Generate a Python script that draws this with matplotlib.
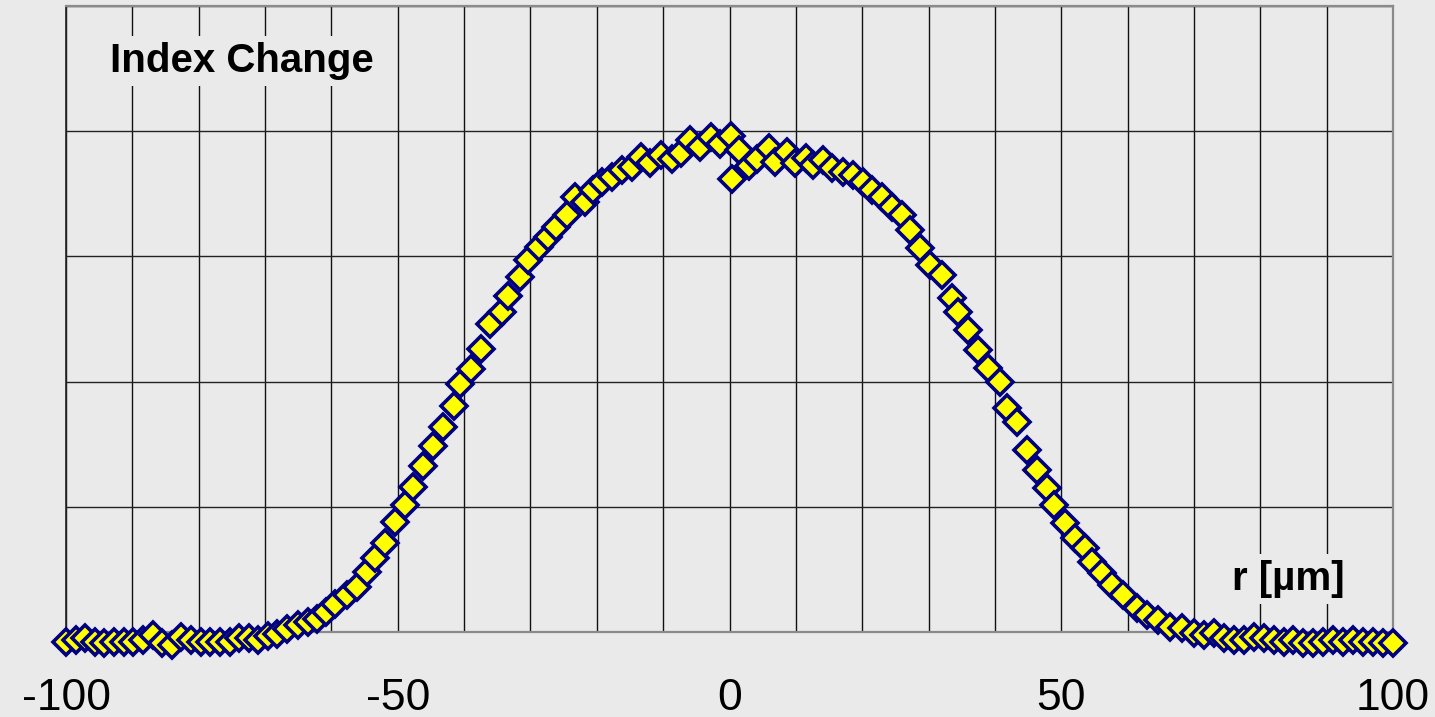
import matplotlib
matplotlib.use("Agg")
import matplotlib.pyplot as plt

plt.rcParams['font.family'] = ['Liberation Sans', 'DejaVu Sans']

# radial position [µm]
r_um = [
    -100.0, -98.55, -97.1, -95.65, -94.2, -92.75, -91.3, -89.85, -88.4, -86.95,
    -85.5, -84.05, -82.6, -81.15, -79.7, -78.25, -76.8, -75.35, -73.9, -72.45,
    -71.06, -69.56, -68.20, -66.69, -65.03, -63.53, -62.17, -60.82, -59.46, -57.65,
    -56.14, -54.64, -53.43, -51.92, -50.41, -48.91, -47.70, -46.19, -44.69, -43.18,
    -41.52, -40.62, -38.96, -37.45, -36.10, -34.29, -33.38, -31.57, -30.37, -28.71,
    -27.36, -26.15, -24.49, -23.29, -21.78, -20.57, -19.22, -17.71, -16.20, -14.70,
    -13.34, -11.98, -10.32, -8.67, -7.31, -5.95, -4.45, -2.79, -1.43, 0.23,
    0.38, 1.43, 2.94, 4.14, 5.95, 6.86, 8.67, 9.87, 11.53, 12.58,
    14.09, 15.45, 17.11, 18.61, 20.12, 21.48, 22.98, 24.49, 26.00, 27.20,
    28.71, 30.22, 32.03, 33.53, 34.44, 35.95, 37.45, 38.96, 40.77, 41.82,
    43.33, 44.84, 46.35, 47.85, 48.91, 50.56, 52.07, 53.58, 54.64, 56.14,
    57.65, 59.31, 61.42, 62.93, 64.58, 66.39, 68.20,
    70.0, 71.5, 73.0, 74.5, 76.0, 77.5, 79.0, 80.5, 82.0, 83.5,
    85.0, 86.5, 88.0, 89.5, 91.0, 92.5, 94.0, 95.5, 97.0, 98.5, 100.0,
]

# index change (arbitrary units, one grid division = 1)
index_change = [
    -0.08, -0.06, -0.05, -0.08, -0.09, -0.08, -0.08, -0.08, -0.06, -0.02,
    -0.09, -0.10, -0.04, -0.06, -0.08, -0.08, -0.08, -0.08, -0.05, -0.05,
    -0.064, -0.032, -0.016, 0.024, 0.056, 0.080, 0.104, 0.160, 0.224, 0.296,
    0.359, 0.479, 0.591, 0.711, 0.879, 1.014, 1.158, 1.326, 1.486, 1.637,
    1.805, 1.981, 2.101, 2.260, 2.460, 2.556, 2.684, 2.835, 2.971, 3.075,
    3.155, 3.235, 3.331, 3.474, 3.434, 3.530, 3.594, 3.634, 3.690, 3.714,
    3.794, 3.746, 3.810, 3.778, 3.826, 3.930, 3.874, 3.954, 3.898, 3.962,
    3.618, 3.850, 3.722, 3.778, 3.866, 3.754, 3.834, 3.746, 3.786, 3.730,
    3.770, 3.706, 3.674, 3.650, 3.594, 3.530, 3.474, 3.394, 3.331, 3.211,
    3.067, 2.931, 2.851, 2.668, 2.556, 2.412, 2.252, 2.109, 1.997, 1.789,
    1.677, 1.454, 1.294, 1.150, 1.014, 0.871, 0.751, 0.671, 0.559, 0.471,
    0.375, 0.296, 0.192, 0.136, 0.096, 0.040, 0.032,
    -0.008, -0.024, -0.008, -0.048, -0.064, -0.064, -0.040, -0.048, -0.064, -0.080,
    -0.064, -0.088, -0.088, -0.080, -0.064, -0.080, -0.064, -0.080, -0.080, -0.088, -0.088,
]

x_ticks = list(range(-100, 101, 10))
x_labels = ["-100", "-50", "0", "50", "100"]
x_label_pos = [-100, -50, 0, 50, 100]
y_grid = [0, 1, 2, 3, 4, 5]

BG = '#eaeaea'

fig = plt.figure(figsize=(14.35, 7.17), dpi=100, facecolor=BG)
ax = fig.add_axes([66 / 1435, (717 - 632) / 717, (1393 - 66) / 1435, (632 - 6) / 717])
ax.set_facecolor(BG)

ax.set_xlim(-100, 100)
ax.set_ylim(0, 5)

ax.set_xticks(x_ticks, minor=True)
ax.set_xticks(x_label_pos)
ax.set_xticklabels(x_labels, fontsize=32)
ax.set_yticks(y_grid)
ax.set_yticklabels([])
ax.tick_params(axis='both', which='both', length=0)
ax.tick_params(axis='x', pad=33)

ax.grid(True, which='both', axis='x', color='#111111', linewidth=1.0)
ax.grid(True, which='major', axis='y', color='#222222', linewidth=1.0)
ax.set_axisbelow(True)

for side in ['top', 'bottom', 'right']:
    ax.spines[side].set_color('#8a8a8a')
    ax.spines[side].set_linewidth(1.6)
ax.spines['left'].set_color('#222222')
ax.spines['left'].set_linewidth(1.2)

ax.plot(r_um, index_change, linestyle='none', marker='D', markersize=13,
        markerfacecolor='#ffff00', markeredgecolor='#000080', markeredgewidth=2.6,
        clip_on=False, zorder=5)

ax.text(-73.5, 4.473, 'Index Change', fontsize=29, fontweight='bold',
        ha='center', va='baseline', zorder=4,
        bbox=dict(facecolor=BG, edgecolor='none', pad=4))
ax.text(84.2, 0.335, 'r [µm]', fontsize=29, fontweight='bold',
        ha='center', va='baseline', zorder=4,
        bbox=dict(facecolor=BG, edgecolor='none', pad=4))

fig.savefig('out.png', dpi=100, facecolor=BG)
